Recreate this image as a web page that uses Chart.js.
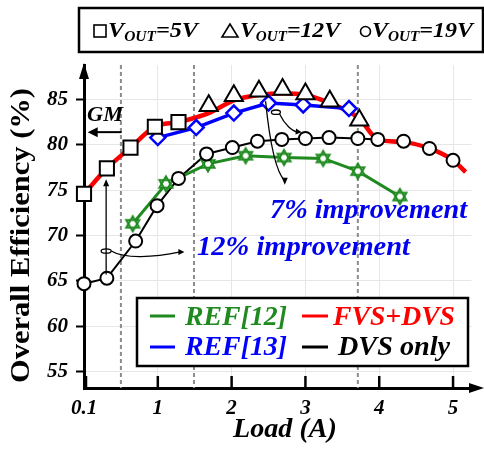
<!DOCTYPE html>
<html><head><meta charset="utf-8">
<script src="https://cdn.jsdelivr.net/npm/chart.js@4.4.1/dist/chart.umd.min.js"></script>
<style>html,body{margin:0;padding:0;background:#fff;}canvas{display:block;}</style>
</head><body>
<canvas id="c" width="484" height="451"></canvas>
<script>
// ---- data ----
const loadTicks = [0, 1, 2, 3, 4, 5];
const loadTickLabels = ['0.1', '1', '2', '3', '4', '5'];
const effTicks = [55, 60, 65, 70, 75, 80, 85];

const fvsLoad = [0, 0.31, 0.63, 0.96, 1.28, 1.69, 2.03, 2.37, 2.69, 3.00, 3.33, 3.73, 3.98, 4.33, 4.68, 5.00, 5.17];
const fvsEff  = [74.6, 77.4, 79.7, 82.0, 82.5, 83.5, 84.9, 85.5, 85.7, 85.5, 84.6, 82.9, 80.6, 80.3, 79.6, 78.3, 77.0];

const dvsLoad = [0, 0.31, 0.70, 0.99, 1.28, 1.66, 2.01, 2.35, 2.68, 3.00, 3.32, 3.71, 3.98, 4.33, 4.68, 5.00];
const dvsEff  = [64.7, 65.3, 69.4, 73.3, 76.3, 79.0, 79.7, 80.4, 80.6, 80.7, 80.8, 80.7, 80.6, 80.4, 79.6, 78.3];

const ref12Load = [0.66, 1.11, 1.68, 2.19, 2.71, 3.24, 3.71, 4.28];
const ref12Eff  = [71.3, 75.7, 77.9, 78.8, 78.6, 78.5, 77.1, 74.3];

const ref13Load = [1.00, 1.52, 2.03, 2.50, 2.97, 3.59];
const ref13Eff  = [80.8, 81.9, 83.5, 84.6, 84.4, 84.0];

const v5Load = [0, 0.31, 0.63, 0.96, 1.28];
const v5Eff  = [74.6, 77.4, 79.7, 82.0, 82.5];

const v12Load = [1.69, 2.03, 2.37, 2.69, 3.00, 3.33, 3.73];
const v12Eff  = [84.3, 85.4, 85.9, 86.1, 85.6, 84.8, 82.7];

const dividerLoads = [0.50, 1.49, 3.71];

// ---- helpers ----
const pts = (xs, ys) => xs.map((v, i) => ({x: v, y: ys[i]}));
const SERIF = '"Liberation Serif", "Times New Roman", serif';
const GREEN = '#1f8a1f', RED = '#ff0000', BLUE = '#0000ff';

function makeStar(color) {
  const c = document.createElement('canvas');
  c.width = 20; c.height = 20;
  const g = c.getContext('2d');
  const tri = (rot) => {
    g.beginPath();
    for (let k = 0; k < 3; k++) {
      const t = rot - Math.PI / 2 + k * 2 * Math.PI / 3;
      const px = 10 + 7.5 * Math.cos(t), py = 10 + 7.5 * Math.sin(t);
      k ? g.lineTo(px, py) : g.moveTo(px, py);
    }
    g.closePath();
  };
  g.fillStyle = '#fff';
  tri(0); g.fill(); tri(Math.PI); g.fill();
  g.strokeStyle = color; g.lineWidth = 2;
  tri(0); g.stroke(); tri(Math.PI); g.stroke();
  return c;
}

function fitText(ctx, txt, left, base, font, color, width) {
  ctx.save();
  ctx.font = font; ctx.fillStyle = color;
  ctx.textAlign = 'left'; ctx.textBaseline = 'alphabetic';
  const m = ctx.measureText(txt).width;
  ctx.translate(left, base);
  ctx.scale(width / m, 1);
  ctx.fillText(txt, 0, 0);
  ctx.restore();
}

function voutText(ctx, left, base, width, tail) {
  const big = 'bold italic 22px ' + SERIF, small = 'bold italic 14px ' + SERIF;
  ctx.save();
  ctx.font = big; const wV = ctx.measureText('V').width; const wT = ctx.measureText(tail).width;
  ctx.font = small; const wS = ctx.measureText('OUT').width;
  const sx = width / (wV + wS + wT);
  ctx.translate(left, base); ctx.scale(sx, 1);
  ctx.fillStyle = '#000'; ctx.textBaseline = 'alphabetic'; ctx.textAlign = 'left';
  ctx.font = big; ctx.fillText('V', 0, 0);
  ctx.font = small; ctx.fillText('OUT', wV, 4);
  ctx.font = big; ctx.fillText(tail, wV + wS, 0);
  ctx.restore();
}

function arrowHead(ctx, tx, ty, ang, len, half) {
  ctx.beginPath();
  ctx.moveTo(tx, ty);
  ctx.lineTo(tx - len * Math.cos(ang) + half * Math.sin(ang), ty - len * Math.sin(ang) - half * Math.cos(ang));
  ctx.lineTo(tx - len * Math.cos(ang) - half * Math.sin(ang), ty - len * Math.sin(ang) + half * Math.cos(ang));
  ctx.closePath(); ctx.fill();
}

const deco = {
  id: 'deco',
  beforeDatasetsDraw(chart) {
    const {ctx, chartArea: a, scales: {x}} = chart;
    ctx.save();
    ctx.strokeStyle = '#8c8c8c'; ctx.lineWidth = 2; ctx.setLineDash([4, 3]);
    dividerLoads.forEach(v => {
      const px = x.getPixelForValue(v);
      ctx.beginPath(); ctx.moveTo(px, a.top); ctx.lineTo(px, a.bottom); ctx.stroke();
    });
    ctx.restore();
  },
  afterDatasetsDraw(chart) {
    const {ctx, scales: {x, y}} = chart;
    const P = (u, v) => [x.getPixelForValue(u), y.getPixelForValue(v)];
    ctx.save();
    ctx.strokeStyle = '#000'; ctx.fillStyle = '#000';
    // GM arrow
    let [gx1, gy] = P(0.51, 81.4); let [gx2] = P(0.05, 81.4);
    ctx.lineWidth = 2;
    ctx.beginPath(); ctx.moveTo(gx1, gy); ctx.lineTo(gx2 + 8, gy); ctx.stroke();
    arrowHead(ctx, gx2, gy, Math.PI, 10, 5);
    // 12% annotation
    ctx.lineWidth = 1.3;
    let [sx, sy1] = P(0.30, 65.7); let [, sy2] = P(0.30, 76.2);
    ctx.beginPath(); ctx.moveTo(sx, sy1); ctx.lineTo(sx, sy2 + 5); ctx.stroke();
    arrowHead(ctx, sx, sy2, -Math.PI / 2, 7, 3);
    let [ex, ey] = P(0.30, 68.3);
    ctx.beginPath(); ctx.ellipse(ex, ey, 5, 2.2, 0, 0, 2 * Math.PI); ctx.stroke();
    let c0 = P(0.37, 68.3), c1 = P(0.55, 67.4), c2 = P(0.95, 67.6), c3 = P(1.36, 68.2);
    ctx.beginPath(); ctx.moveTo(...c0); ctx.bezierCurveTo(...c1, ...c2, c3[0] - 4, c3[1]); ctx.stroke();
    arrowHead(ctx, c3[0], c3[1], 0, 6, 3);
    // 7% annotation
    let d0 = P(2.46, 84.8), d1 = P(2.52, 80.0), d2 = P(2.60, 77.0), d3 = P(2.72, 75.6);
    ctx.beginPath(); ctx.moveTo(...d0); ctx.bezierCurveTo(...d1, ...d2, d3[0], d3[1] - 4); ctx.stroke();
    arrowHead(ctx, d3[0], d3[1], Math.PI / 2, 7, 3);
    let [e2x, e2y] = P(2.60, 83.6);
    ctx.beginPath(); ctx.ellipse(e2x, e2y, 4.5, 2.2, 0, 0, 2 * Math.PI); ctx.stroke();
    let f0 = P(2.65, 83.4), f1 = P(2.72, 82.2), f2 = P(2.82, 81.5), f3 = P(2.95, 81.4);
    ctx.beginPath(); ctx.moveTo(...f0); ctx.bezierCurveTo(...f1, ...f2, f3[0] - 4, f3[1]); ctx.stroke();
    arrowHead(ctx, f3[0], f3[1], 0.1, 6, 3);
    ctx.restore();
  },
  afterDraw(chart) {
    const {ctx, chartArea: a, scales: {x}} = chart;
    ctx.save();
    ctx.fillStyle = '#000'; ctx.strokeStyle = '#000';
    // axis arrows
    ctx.beginPath(); ctx.moveTo(a.left, a.top - 2); ctx.lineTo(a.left - 5, a.top + 14); ctx.lineTo(a.left + 5, a.top + 14); ctx.closePath(); ctx.fill();
    ctx.beginPath(); ctx.moveTo(484, a.bottom); ctx.lineTo(469, a.bottom - 5); ctx.lineTo(469, a.bottom + 5); ctx.closePath(); ctx.fill();
    // x tick marks (inside)
    ctx.lineWidth = 2.5;
    loadTicks.forEach(v => {
      const px = x.getPixelForValue(v) + (v === 0 ? 2 : 0);
      ctx.beginPath(); ctx.moveTo(px, a.bottom); ctx.lineTo(px, a.bottom - 12); ctx.stroke();
    });
    // axis titles
    fitText(ctx, 'Load (A)', 233, 437, 'bold italic 28px ' + SERIF, '#000', 104);
    ctx.save();
    ctx.translate(29, 383); ctx.rotate(-Math.PI / 2);
    fitText(ctx, 'Overall Efficiency (%)', 0, 0, 'bold 28px ' + SERIF, '#000', 295);
    ctx.restore();
    // GM and improvement texts
    fitText(ctx, 'GM', 87, 121, 'bold italic 22px ' + SERIF, '#000', 36);
    fitText(ctx, '7% improvement', 270, 218, 'bold italic 27px ' + SERIF, '#0000ee', 197);
    fitText(ctx, '12% improvement', 197, 255, 'bold italic 27px ' + SERIF, '#0000ee', 213);
    // top legend box
    ctx.fillStyle = '#fff'; ctx.fillRect(79, 8, 404, 44);
    ctx.lineWidth = 2.5; ctx.strokeStyle = '#000'; ctx.strokeRect(79, 8, 404, 44);
    ctx.lineWidth = 1.6;
    ctx.strokeRect(94, 25, 12, 12);
    ctx.beginPath(); ctx.moveTo(230, 24); ctx.lineTo(222, 37); ctx.lineTo(238, 37); ctx.closePath(); ctx.stroke();
    ctx.beginPath(); ctx.arc(365.5, 31.5, 5, 0, 2 * Math.PI); ctx.stroke();
    voutText(ctx, 108, 37, 90, '=5V');
    voutText(ctx, 240, 37, 100, '=12V');
    voutText(ctx, 372, 37, 101, '=19V');
    // bottom legend box
    ctx.fillStyle = '#fff'; ctx.fillRect(137, 298, 331, 68);
    ctx.lineWidth = 2.5; ctx.strokeStyle = '#000'; ctx.strokeRect(137, 298, 331, 68);
    const dash = (x1, x2, yy, col) => { ctx.strokeStyle = col; ctx.lineWidth = 3; ctx.beginPath(); ctx.moveTo(x1, yy); ctx.lineTo(x2, yy); ctx.stroke(); };
    dash(150, 175, 316, GREEN); dash(302, 328, 316, RED);
    dash(150, 175, 347, BLUE);  dash(302, 328, 347, '#000');
    const lf = 'bold italic 28px ' + SERIF;
    fitText(ctx, 'REF[12]', 185, 325, lf, GREEN, 102);
    fitText(ctx, 'FVS+DVS', 333, 325, lf, RED, 122);
    fitText(ctx, 'REF[13]', 185, 355, lf, BLUE, 102);
    fitText(ctx, 'DVS only', 338, 355, lf, '#000', 112);
    ctx.restore();
  }
};

const star = makeStar(GREEN);
const tickFont = {family: SERIF, size: 21, weight: 'bold', style: 'italic'};

new Chart(document.getElementById('c'), {
  type: 'line',
  data: {
    datasets: [
      {label: 'DVS only (line)', data: pts(dvsLoad, dvsEff), borderColor: '#000', borderWidth: 2, pointRadius: 0, tension: 0, order: 10, clip: false},
      {label: 'REF[12]', data: pts(ref12Load, ref12Eff), borderColor: GREEN, borderWidth: 3, pointStyle: star, pointRadius: 8, tension: 0, order: 9, clip: false},
      {label: 'FVS+DVS', data: pts(fvsLoad, fvsEff), borderColor: RED, borderWidth: 4.5, pointRadius: 0, cubicInterpolationMode: 'monotone', order: 8, clip: false},
      {label: 'REF[13]', data: pts(ref13Load, ref13Eff), borderColor: BLUE, borderWidth: 3.5, pointStyle: 'rectRot', pointRadius: 7.5, pointBorderWidth: 2.5, pointBorderColor: BLUE, pointBackgroundColor: '#fff', tension: 0, order: 7, clip: false},
      {label: 'DVS only', data: pts(dvsLoad, dvsEff), showLine: false, pointStyle: 'circle', pointRadius: 6.5, pointBorderWidth: 2, pointBorderColor: '#000', pointBackgroundColor: '#fff', order: 6, clip: false},
      {label: 'VOUT=5V', data: pts(v5Load, v5Eff), showLine: false, pointStyle: 'rect', pointRadius: 10, pointBorderWidth: 2, pointBorderColor: '#000', pointBackgroundColor: '#fff', order: 2, clip: false},
      {label: 'VOUT=12V', data: pts(v12Load, v12Eff), showLine: false, pointStyle: 'triangle', pointRadius: 10.5, pointBorderWidth: 2, pointBorderColor: '#000', pointBackgroundColor: '#fff', order: 1, clip: false}
    ]
  },
  options: {
    responsive: false, animation: false, devicePixelRatio: 1,
    layout: {padding: {top: 65, right: 1, left: 0, bottom: 0}},
    plugins: {legend: {display: false}, tooltip: {enabled: false}},
    scales: {
      x: {
        type: 'linear', min: 0, max: 5.25,
        afterFit(s) { s.height = 63; },
        afterBuildTicks(s) { s.ticks = loadTicks.map(v => ({value: v})); },
        ticks: {font: tickFont, color: '#000', padding: 8, maxRotation: 0, autoSkip: false,
                callback: (v, i) => loadTickLabels[i]},
        grid: {color: '#e6e6e6', lineWidth: 1, drawTicks: false},
        border: {color: '#000', width: 3}
      },
      y: {
        type: 'linear', min: 53.2, max: 88.8,
        afterFit(s) { s.width = 84; },
        afterBuildTicks(s) { s.ticks = effTicks.map(v => ({value: v})); },
        ticks: {font: tickFont, color: '#000', padding: 8, autoSkip: false},
        grid: {color: '#e6e6e6', lineWidth: 1, tickLength: 8, tickColor: '#000', tickWidth: 2},
        border: {color: '#000', width: 3}
      }
    }
  },
  plugins: [deco]
});
</script>
</body></html>
